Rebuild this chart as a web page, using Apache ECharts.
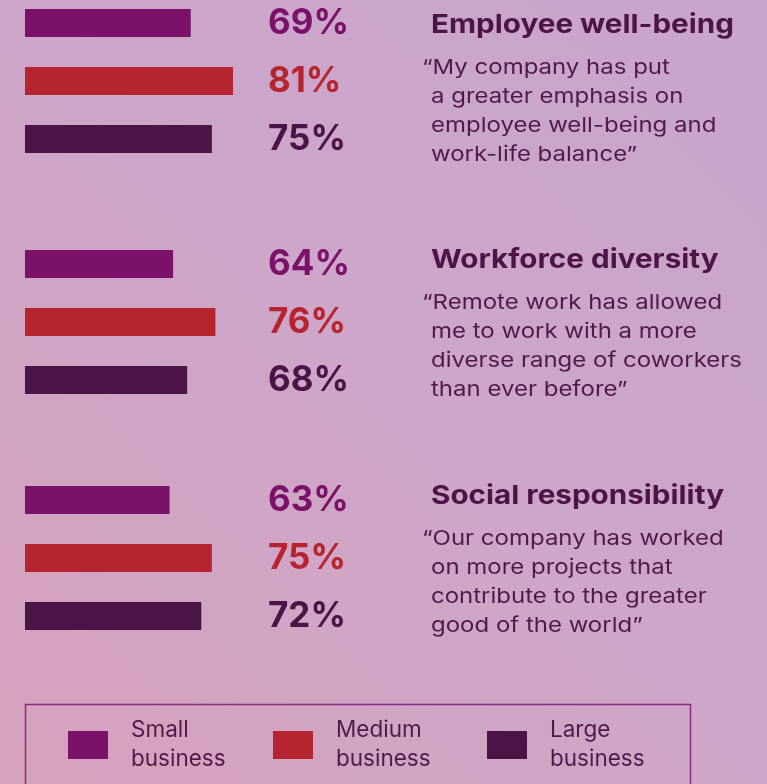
<!DOCTYPE html>
<html>
<head>
<meta charset="utf-8">
<script src="https://cdn.jsdelivr.net/npm/echarts@6/dist/echarts.min.js"></script>
<style>
html,body{margin:0;padding:0;}
#chart{width:767px;height:784px;}
</style>
</head>
<body>
<div id="chart"></div>
<script>
// ---- data ----
const categories = ['Small business', 'Medium business', 'Large business'];
const sections = ['Employee well-being', 'Workforce diversity', 'Social responsibility'];
const smallValues = [69, 64, 63];
const mediumValues = [81, 76, 75];
const largeValues = [75, 68, 72];
const quotes = [
  ['\u201CMy company has put', 'a greater emphasis on', 'employee well-being and', 'work-life balance\u201D'],
  ['\u201CRemote work has allowed', 'me to work with a more', 'diverse range of coworkers', 'than ever before\u201D'],
  ['\u201COur company has worked', 'on more projects that', 'contribute to the greater', 'good of the world\u201D']
];

// ---- style ----
const colors = ['#7b1168', '#b6242f', '#4b1346'];
const textColor = '#4e1a4a';
const FONT = 'Inter, "Open Sans", sans-serif';
const gridTops = [-6, 235, 471];
const titleBaselines = [33, 268, 504];
const quoteBaselines = [[74, 103, 132, 161], [309, 338, 367, 396], [545, 574, 603, 632]];
const legendLefts = [68, 273, 487];

const valuesBySize = [smallValues, mediumValues, largeValues];

const grids = [], xAxes = [], yAxes = [], series = [];
sections.forEach((sec, s) => {
  grids.push({ left: 25, width: 275, top: gridTops[s], height: 174, containLabel: false, outerBoundsMode: 'none' });
  xAxes.push({ type: 'value', gridIndex: s, min: 22, max: 100, show: false });
  yAxes.push({ type: 'category', gridIndex: s, data: categories, inverse: true, show: false });
  categories.forEach((cat, k) => {
    series.push({
      type: 'bar',
      name: cat,
      xAxisIndex: s,
      yAxisIndex: s,
      barWidth: 28,
      barGap: '-100%',
      silent: true,
      itemStyle: { color: colors[k] },
      label: {
        show: true,
        position: [243, '50%'],
        align: 'left',
        verticalAlign: 'middle',
        formatter: p => p.value + '%',
        color: colors[k],
        fontFamily: FONT,
        fontWeight: 'bold',
        fontSize: 35
      },
      data: categories.map((c, i) => (i === k ? valuesBySize[k][s] : null))
    });
  });
});

const graphics = [];
const TITLE_FS = 26, QUOTE_FS = 20.5;
sections.forEach((sec, s) => {
  graphics.push({
    type: 'text',
    x: 431, y: titleBaselines[s] - 0.3 * TITLE_FS,
    scaleX: 1.14,
    silent: true,
    style: { text: sec, fill: '#4d1446', font: 'bold ' + TITLE_FS + 'px ' + FONT, align: 'left', verticalAlign: 'middle' }
  });
  quotes[s].forEach((line, j) => {
    graphics.push({
      type: 'text',
      x: j === 0 ? 422 : 431,
      y: quoteBaselines[s][j] - 0.3 * QUOTE_FS,
      scaleX: 1.17,
      silent: true,
      style: { text: line, fill: textColor, font: QUOTE_FS + 'px ' + FONT, align: 'left', verticalAlign: 'middle' }
    });
  });
});
graphics.push({
  type: 'rect',
  shape: { x: 25.5, y: 704.5, width: 665, height: 110 },
  style: { fill: 'none', stroke: '#8d2a7f', lineWidth: 1.5 },
  silent: true
});

const legends = categories.map((cat, k) => ({
  data: [cat],
  left: legendLefts[k],
  top: 713,
  padding: 0,
  orient: 'horizontal',
  icon: 'rect',
  itemWidth: 40,
  itemHeight: 28,
  selectedMode: false,
  formatter: n => n.replace(' ', '\n'),
  textStyle: {
    color: textColor,
    fontFamily: FONT,
    fontSize: 22.5,
    lineHeight: 29,
    padding: [6, 0, 0, 18]
  }
}));

const chart = echarts.init(document.getElementById('chart'));
chart.setOption({
  animation: false,
  backgroundColor: {
    type: 'linear', x: 1, y: 0, x2: 0, y2: 1,
    colorStops: [
      { offset: 0, color: '#c8a5cc' },
      { offset: 0.5, color: '#cda6c9' },
      { offset: 1, color: '#d6a2bc' }
    ]
  },
  grid: grids,
  xAxis: xAxes,
  yAxis: yAxes,
  legend: legends,
  series: series,
  graphic: graphics
});
</script>
</body>
</html>
